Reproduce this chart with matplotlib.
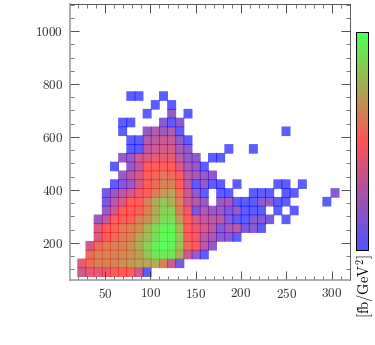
import matplotlib
matplotlib.use("Agg")
import matplotlib.pyplot as plt
from matplotlib.colors import LinearSegmentedColormap
from matplotlib.ticker import MultipleLocator
import numpy as np

plt.rcParams['font.family'] = 'serif'
plt.rcParams['font.serif'] = ['DejaVu Serif']
plt.rcParams['mathtext.fontset'] = 'cm'

n = np.nan

# bin edges of the histogram
x_edges = np.arange(20, 309, 9)
y_edges = np.linspace(73, 771, 22)

# normalised density per row, bottom to top (0 = blue, .5 = red, 1 = green)
r00 = [.35, .42, .42, .42, .5, .5, .5, .36, .02]
r01 = [.42, .56, .62, .62, .62, .66, .68, .72, .72, .74, .62, .35, .1]
r02 = [n, .56, .62, .62, .62, .64, .66, .7, .8, .9, .92, .9, .74, .32, .18, .02]
r03 = [n, .36, .56, .6, .62, .62, .66, .74, .84, .95, 1.0, .95, .8, .55, .48, .28, .18]
r04 = [n, n, .38, .5, .56, .6, .62, .72, .78, .88, .97, .97, .82, .5, .44, .28, .24, .14, .14, .02]
r05 = [n, n, .38, .5, .54, .6, .62, .66, .76, .88, .95, .95, .78, .5, .42, .36, .28, .14, .22, .28, .1, .14, .02]
r06 = [n, n, .2, .3, .48, .5, .54, .62, .66, .76, .88, .88, .7, .5, .38, .3, .28, .28, .14, .02, .02, .14, .14, .1, n, .02]
r07 = [n, n, n, .2, .34, .5, .5, .54, .62, .74, .84, .84, .62, .44, .1, .26, .2, .2, .1, .18, .02, .02, .02, n, .02, n, .02]
r08 = [n, n, n, .1, .28, .36, .5, .5, .62, .74, .82, .74, .62, .34, .28, .18, n, .18, .24, .02, .02, .02, .16, .18, .02, .02, n, n, n, n, .02]
r09 = [n, n, n, .1, .2, .28, .36, .44, .5, .62, .68, .72, .58, .34, .18, .02, n, .02, .02, n, n, .02, .02, .02, n, .02, .02, n, n, n, n, .14]
r10 = [n, n, n, n, .02, .14, .18, .36, .5, .56, .62, .62, .5, .28, .02, .18, .02, .02, n, .02, n, n, n, n, .02, .02, n, .02]
r11 = [n, n, n, n, n, .18, .28, .36, .5, .54, .6, .55, .48, .28, .24, .18, .16]
r12 = [n, n, n, n, .02, n, .2, .28, .48, .5, .5, .5, .36, .24, .18, .02]
r13 = [n, n, n, n, n, .18, .18, .34, .38, .42, .42, .42, .28, .18, .16, n, .02, .02]
r14 = [n, n, n, n, n, n, .02, .02, .28, .34, .36, .36, .24, .16, n, n, n, n, .02, n, n, .02]
r15 = [n, n, n, n, n, n, .02, .02, .26, .3, .32, .32, .18, .02]
r16 = [n, n, n, n, n, .02, n, n, .18, .26, .22, .26, .02, n, n, n, n, n, n, n, n, n, n, n, n, .02]
r17 = [n, n, n, n, n, .02, .02, n, n, n, .14, .02, .16]
r18 = [n, n, n, n, n, n, n, n, .02, n, n, .18, n, .02]
r19 = [n, n, n, n, n, n, n, n, n, .02, n, .02]
r20 = [n, n, n, n, n, n, .02, .02, n, n, .02]
rows = [r00, r01, r02, r03, r04, r05, r06, r07, r08, r09, r10, r11, r12, r13, r14, r15, r16, r17, r18, r19, r20]

x_ticks = [50, 100, 150, 200, 250, 300]
y_ticks = [200, 400, 600, 800, 1000]

cmap = LinearSegmentedColormap.from_list('brg2', ['#0000ff', '#ff0000', '#00ff00'], N=48)

fig = plt.figure(figsize=(3.75, 3.45), dpi=100)
ax = fig.add_axes([70 / 375, 65 / 345, 280 / 375, 276 / 345])

# cells overlap a little so the seams come out darker, as in the original
dx = x_edges[1] - x_edges[0]
dy = y_edges[1] - y_edges[0]
for j, r in enumerate(rows):
    for i, v in enumerate(r):
        if np.isnan(v):
            continue
        b = ax.bar(x_edges[i] + dx / 2, dy * 1.09, width=dx * 1.1, bottom=y_edges[j] - dy * 0.045,
                   color=cmap(float(v)), alpha=0.64, linewidth=0)
        b[0].set_snap(False)

ax.set_xlim(11.5, 320)
ax.set_ylim(60, 1102)
ax.set_xticks(x_ticks)
ax.set_xticklabels([f'${v}$' for v in x_ticks], fontsize=9.5, color='#333333')
ax.set_yticks(y_ticks)
ax.set_yticklabels([f'${v}$' for v in y_ticks], fontsize=9.5, color='#333333')
ax.xaxis.set_minor_locator(MultipleLocator(10))
ax.yaxis.set_minor_locator(MultipleLocator(50))
ax.tick_params(which='major', direction='in', length=6.5, width=0.6, top=True, right=True, pad=5, color='#333333')
ax.tick_params(which='minor', direction='in', length=3.2, width=0.5, top=True, right=True, color='#444444')
for side, s in ax.spines.items():
    s.set_linewidth(1.1 if side in ('left', 'bottom') else 0.7)
    s.set_color('#999999' if side in ('left', 'bottom') else '#555555')

cax = fig.add_axes([356 / 375, 95 / 345, 12 / 375, 218 / 345])
bar_vals = np.linspace(0, 1, 48).reshape(-1, 1)
cax.imshow(bar_vals, cmap=cmap, vmin=0, vmax=1, alpha=0.68, origin='lower', aspect='auto', interpolation='nearest')
cax.set_xticks([])
cax.set_yticks([])
for s in cax.spines.values():
    s.set_linewidth(0.7)

fig.text(365 / 375, 1 - 286 / 345, r'$[\mathrm{fb/GeV}^2]$', rotation=90, ha='center', va='center', fontsize=10.5)

fig.savefig('out.png', dpi=100)
